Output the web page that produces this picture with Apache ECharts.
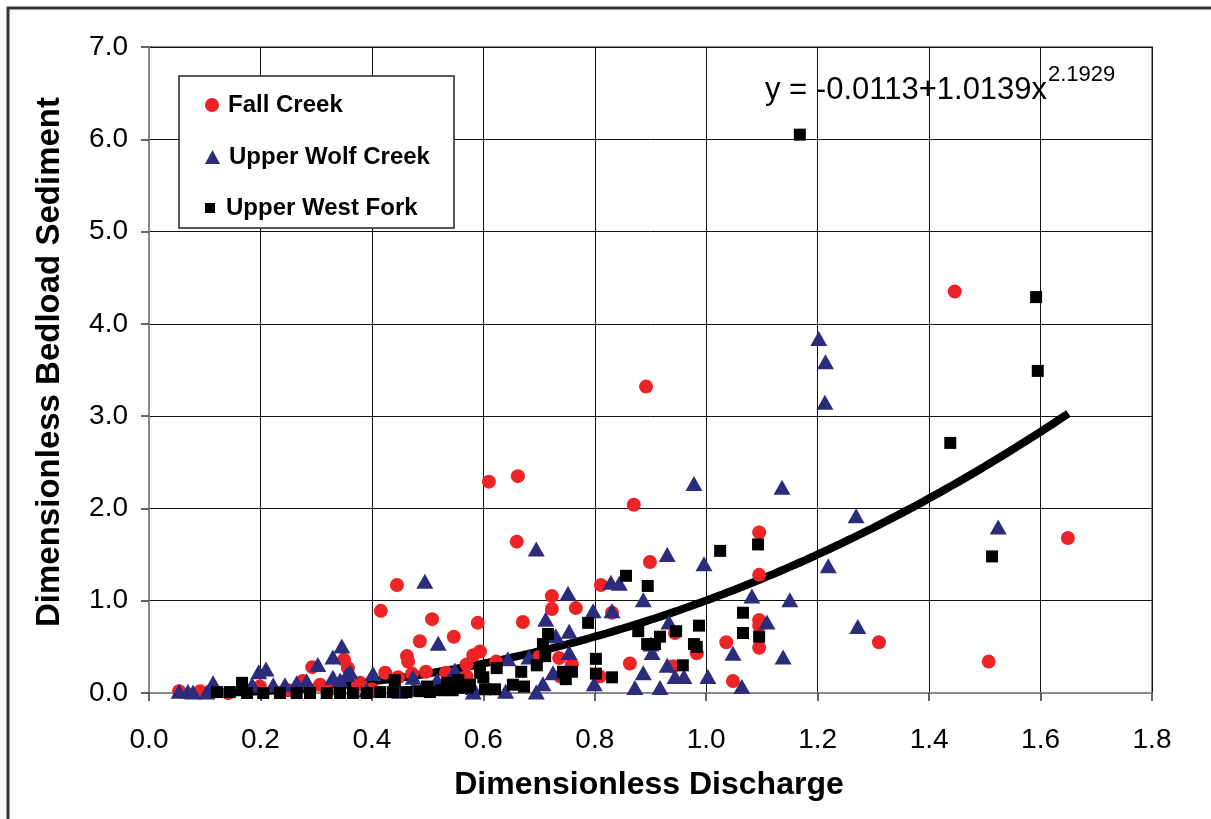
<!DOCTYPE html>
<html>
<head>
<meta charset="utf-8">
<title>Dimensionless Bedload Sediment vs Discharge</title>
<script src="https://cdn.jsdelivr.net/npm/echarts@6/dist/echarts.min.js"></script>
<style>
  html, body { margin: 0; padding: 0; background: #fff; }
  #chart { width: 1211px; height: 819px; }
</style>
</head>
<body>
<div id="chart"></div>
<script>
// Observations: [dimensionless discharge, dimensionless bedload]
const fallCreek = [
  [1.446,4.35],[0.892,3.32],[0.662,2.35],[0.610,2.29],[0.870,2.04],[1.649,1.68],
  [1.095,1.74],[0.660,1.64],[0.899,1.42],[1.095,1.28],[0.811,1.17],[0.445,1.17],
  [0.723,1.05],[0.766,0.92],[0.723,0.91],[0.416,0.89],[0.831,0.87],[0.508,0.80],
  [1.095,0.79],[1.095,0.73],[0.671,0.77],[0.590,0.76],[0.944,0.65],[1.036,0.55],
  [1.095,0.49],[0.983,0.43],[1.310,0.55],[1.507,0.34],[0.547,0.61],[0.486,0.56],
  [0.463,0.40],[0.465,0.34],[0.594,0.45],[0.582,0.41],[0.570,0.31],[0.570,0.18],
  [0.707,0.41],[0.736,0.38],[0.759,0.31],[0.738,0.18],[0.863,0.32],[0.940,0.29],
  [0.809,0.18],[1.048,0.13],[0.623,0.34],[0.700,0.39],[0.350,0.36],[0.357,0.27],
  [0.424,0.22],[0.497,0.23],[0.472,0.21],[0.533,0.22],[0.447,0.17],[0.379,0.11],
  [0.293,0.28],[0.276,0.13],[0.307,0.09],[0.199,0.07],[0.092,0.02],[0.054,0.02],
  [0.142,0.00],[0.375,0.09],[0.250,0.03],[0.330,0.05],[0.400,0.04],[0.520,0.05]
];

const upperWolfCreek = [
  [1.202,3.84],[1.214,3.59],[1.213,3.15],[0.978,2.27],[1.136,2.23],[1.269,1.92],
  [1.524,1.80],[0.695,1.56],[0.930,1.50],[0.996,1.40],[1.219,1.38],[0.495,1.21],
  [0.829,1.20],[0.844,1.19],[0.887,1.01],[1.082,1.05],[1.150,1.01],[0.752,1.08],
  [0.797,0.89],[0.831,0.89],[0.712,0.80],[0.933,0.77],[1.109,0.77],[1.272,0.72],
  [0.730,0.62],[0.754,0.67],[0.901,0.53],[0.903,0.44],[1.048,0.43],[1.138,0.39],
  [0.644,0.37],[0.682,0.39],[0.754,0.44],[0.930,0.30],[0.887,0.22],[0.944,0.18],
  [0.960,0.18],[1.003,0.18],[0.799,0.10],[0.872,0.06],[0.917,0.06],[1.064,0.07],
  [0.725,0.22],[0.707,0.10],[0.695,0.01],[0.582,0.01],[0.519,0.54],[0.346,0.51],
  [0.330,0.39],[0.303,0.31],[0.210,0.26],[0.197,0.23],[0.355,0.20],[0.343,0.14],
  [0.361,0.23],[0.402,0.21],[0.115,0.11],[0.474,0.17],[0.517,0.14],[0.549,0.25],
  [0.054,0.02],[0.070,0.02],[0.079,0.01],[0.104,0.01],[0.185,0.09],[0.223,0.09],
  [0.244,0.09],[0.265,0.11],[0.283,0.13],[0.330,0.17],[0.535,0.06],[0.474,0.04],
  [0.582,0.06],[0.640,0.02],[0.450,0.02],[0.390,0.03]
];

const upperWestFork = [
  [1.168,6.05],[1.592,4.29],[1.595,3.49],[1.438,2.71],[1.513,1.48],[1.025,1.54],
  [1.093,1.61],[0.856,1.27],[0.895,1.16],[0.788,0.76],[0.716,0.64],[0.707,0.53],
  [0.711,0.40],[0.878,0.67],[0.917,0.61],[0.946,0.67],[0.987,0.73],[1.066,0.87],
  [1.066,0.65],[1.095,0.61],[0.894,0.53],[0.908,0.53],[0.978,0.53],[0.983,0.50],
  [0.696,0.30],[0.668,0.23],[0.624,0.27],[0.743,0.23],[0.759,0.23],[0.748,0.15],
  [0.802,0.37],[0.802,0.21],[0.831,0.17],[0.958,0.30],[0.594,0.22],[0.600,0.17],
  [0.653,0.09],[0.673,0.07],[0.603,0.04],[0.621,0.04],[0.571,0.07],[0.535,0.11],
  [0.555,0.14],[0.555,0.06],[0.572,0.06],[0.441,0.14],[0.499,0.07],[0.167,0.11],
  [0.122,0.01],[0.145,0.01],[0.176,0.00],[0.205,0.00],[0.235,0.00],[0.265,0.00],
  [0.289,0.00],[0.319,0.00],[0.343,0.00],[0.366,0.00],[0.391,0.00],[0.415,0.01],
  [0.438,0.01],[0.462,0.01],[0.486,0.02],[0.504,0.01],[0.558,0.06],[0.576,0.09],
  [0.525,0.03],[0.545,0.03]
];

// Power-law fit printed on the chart: y = a + b * x^c
const fitA = -0.0113;
const fitB = 1.0139;
const fitC = 2.1929;
const fitRange = [0.05, 1.65];

const seriesNames = ['Fall Creek', 'Upper Wolf Creek', 'Upper West Fork'];
const xTitle = 'Dimensionless Discharge';
const yTitle = 'Dimensionless Bedload Sediment';
const equationMain = 'y = -0.0113+1.0139x';
const equationExp = '2.1929';

const fitLine = [];
for (let i = 0; i <= 160; i++) {
  const x = fitRange[0] + (fitRange[1] - fitRange[0]) * i / 160;
  fitLine.push([x, fitA + fitB * Math.pow(x, fitC)]);
}

const FONT = '"Liberation Sans", Arial, Helvetica, sans-serif';
const RED = '#ee2326';
const NAVY = '#2b2c7c';

const chart = echarts.init(document.getElementById('chart'), null, { renderer: 'canvas' });

const legendBase = {
  orient: 'vertical',
  left: 205,
  itemGap: 0,
  padding: 0,
  selectedMode: false,
  z: 6,
  textStyle: { fontFamily: FONT, fontSize: 24, fontWeight: 'bold', color: '#000', padding: [0, 0, 0, 4] }
};

chart.setOption({
  backgroundColor: '#fff',
  animation: false,
  grid: {
    left: 149, top: 47, right: 59, bottom: 126,
    show: true, borderColor: '#8a8a8a', borderWidth: 2, backgroundColor: 'transparent'
  },
  legend: [
    Object.assign({}, legendBase, { top: 93, itemWidth: 14, itemHeight: 14,
      data: [{ name: seriesNames[0], icon: 'circle' }] }),
    Object.assign({}, legendBase, { top: 145, itemWidth: 15, itemHeight: 14,
      data: [{ name: seriesNames[1], icon: 'triangle' }] }),
    Object.assign({}, legendBase, { top: 196, itemWidth: 14, itemHeight: 10,
      data: [{ name: seriesNames[2], icon: 'path://M0,0h10v10h-10z' }] })
  ],
  xAxis: {
    type: 'value', min: 0, max: 1.8, interval: 0.2,
    axisLine: { show: true, onZero: false, lineStyle: { color: '#8a8a8a', width: 2 } },
    axisTick: { show: true, length: 8, lineStyle: { color: '#333', width: 1.5 } },
    axisLabel: { margin: 33, fontFamily: FONT, fontSize: 28, color: '#000',
      formatter: v => v.toFixed(1) },
    splitLine: { show: true, lineStyle: { color: '#111', width: 1 } }
  },
  yAxis: {
    type: 'value', min: 0, max: 7, interval: 1,
    axisLine: { show: true, onZero: false, lineStyle: { color: '#8a8a8a', width: 2 } },
    axisTick: { show: true, length: 8, lineStyle: { color: '#333', width: 1.5 } },
    axisLabel: { margin: 21, fontFamily: FONT, fontSize: 28, color: '#000',
      formatter: v => v.toFixed(1) },
    splitLine: { show: true, lineStyle: { color: '#111', width: 1 } }
  },
  graphic: [
    // outer frame
    { type: 'rect', z: 10, silent: true,
      shape: { x: 8, y: 8, width: 1400, height: 1000 },
      style: { fill: 'none', stroke: '#333', lineWidth: 3 } },
    // legend box
    { type: 'rect', z: 3, silent: true,
      shape: { x: 179, y: 76, width: 275, height: 152 },
      style: { fill: '#fff', stroke: '#222', lineWidth: 1.5 } },
    // axis titles
    { type: 'text', z: 5, silent: true,
      style: { x: 649, y: 785, text: xTitle, textAlign: 'center', textVerticalAlign: 'middle',
        font: 'bold 32px ' + FONT, fill: '#000' } },
    { type: 'text', z: 5, silent: true, x: 50, y: 362, rotation: Math.PI / 2,
      style: { x: 0, y: 0, text: yTitle, textAlign: 'center', textVerticalAlign: 'middle',
        font: 'bold 33px ' + FONT, fill: '#000' } },
    // fitted equation
    { type: 'text', z: 5, silent: true,
      style: { x: 765, y: 90, text: equationMain, textVerticalAlign: 'middle',
        font: '31px ' + FONT, fill: '#000' } },
    { type: 'text', z: 5, silent: true,
      style: { x: 1048, y: 75, text: equationExp, textVerticalAlign: 'middle',
        font: '22px ' + FONT, fill: '#000' } }
  ],
  series: [
    {
      name: 'Power fit', type: 'line', data: fitLine, showSymbol: false, z: 1,
      smooth: false, lineStyle: { color: '#000', width: 8 }, silent: true
    },
    {
      name: seriesNames[0], type: 'scatter', data: fallCreek, z: 2,
      symbol: 'circle', symbolSize: 14, itemStyle: { color: RED, opacity: 1 }
    },
    {
      name: seriesNames[1], type: 'scatter', data: upperWolfCreek, z: 3,
      symbol: 'triangle', symbolSize: [17, 15], itemStyle: { color: NAVY, opacity: 1 }
    },
    {
      name: seriesNames[2], type: 'scatter', data: upperWestFork, z: 4,
      symbol: 'rect', symbolSize: 12, itemStyle: { color: '#000', opacity: 1 }
    }
  ]
});
</script>
</body>
</html>
